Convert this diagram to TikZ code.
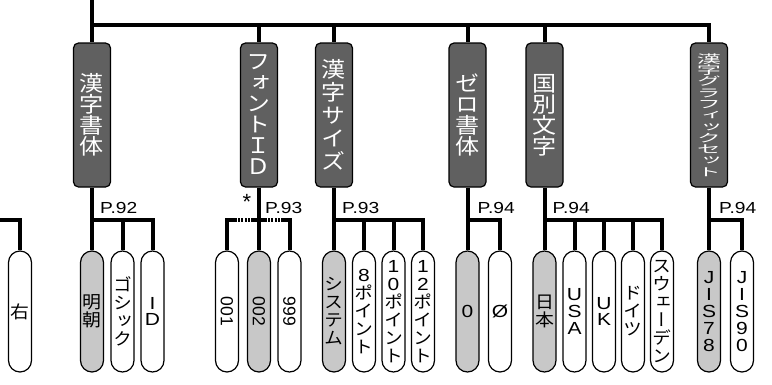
\documentclass[tikz,border=0pt]{standalone}
\usepackage{fontspec}
\setmainfont{Liberation Sans}[FakeStretch=1.2]
\newfontfamily\plainsans{Liberation Sans}
\newfontfamily\jphead[RawFeature=+vert, FakeStretch=1.12]{Noto Sans CJK JP}
\newfontfamily\jpsmall[RawFeature=+vert, FakeStretch=2.1]{Noto Sans CJK JP}
\newfontfamily\jpopt[RawFeature=+vert, FakeStretch=1.08]{Noto Sans CJK JP}
\usepackage{graphicx}
\usetikzlibrary{calc, math}
\definecolor{headgray}{RGB}{96, 96, 96}
\definecolor{selgray}{RGB}{200, 200, 200}
\tikzset{
  bus/.style={line width=4},
  head/.style={draw, line width=1.2, fill=headgray, text=white, rounded corners=5,
    minimum width=37, minimum height=144, inner sep=0, align=center,
    font=\jphead\fontsize{21.5}{21}\selectfont},
  choice/.style={draw, line width=1.2, fill=white, rounded corners=11.5,
    minimum width=23, minimum height=121, inner sep=0, align=center,
    font=\jpopt\fontsize{17.5}{18}\selectfont},
  chosen/.style={choice, fill=selgray},
  latin/.style={font=\rmfamily\fontsize{17.5}{16.8}\selectfont},
  turned/.style={font=\plainsans\fontsize{17.5}{17.5}\selectfont},
  pageref/.style={anchor=base west, inner sep=0, font=\rmfamily\fontsize{16}{16}\selectfont}
}

\begin{document}
\begin{tikzpicture}[x=1pt, y=-1pt]
\tikzmath{
\hy=115; \cy=311.5; \jy=220; \by=25;
}
\useasboundingbox (0,0) rectangle (772,384);

\node[head] (kanji) at (92,\hy) {漢\\字\\書\\体};
\node[head] (fontid) at (259,\hy) {フ\\ォ\\ン\\ト\\Ｉ\\Ｄ};
\node[head, font=\jphead\fontsize{21.5}{23}\selectfont] (ksize) at (334,\hy) {漢\\字\\サ\\イ\\ズ};
\node[head] (zero) at (467.5,\hy) {ゼ\\ロ\\書\\体};
\node[head] (country) at (544.5,\hy) {国\\別\\文\\字};
\node[head, font=\jpsmall\fontsize{11.5}{11.3}\selectfont] (kgraph) at (709,\hy)
  {漢\\字\\グ\\ラ\\フ\\ィ\\ッ\\ク\\セ\\ッ\\ト};

\coordinate (feed) at (92,-5);
\coordinate (jb) at (92,\by);
\draw[bus] (feed) -- (kanji.north);
\draw[bus] (jb) -| (fontid.north);
\draw[bus] (jb) -| (ksize.north);
\draw[bus] (jb) -| (zero.north);
\draw[bus] (jb) -| (country.north);
\draw[bus] (jb) -| (kgraph.north);

\node[choice] (migi) at (20,\cy) {右};

\node[chosen] (mincho) at (92,\cy) {明\\朝};
\node[choice] (gothic) at (122.5,\cy) {ゴ\\シ\\ッ\\ク};
\node[choice, latin] (kid) at (152.5,\cy) {I\\D};

\node[choice, turned] (f001) at (227,\cy) {\rotatebox{-90}{001}};
\node[chosen, turned] (f002) at (259,\cy) {\rotatebox{-90}{002}};
\node[choice, turned] (f999) at (289.5,\cy) {\rotatebox{-90}{999}};

\node[chosen] (sys) at (334,\cy) {シ\\ス\\テ\\ム};
\node[choice] (p8) at (364,\cy) {{\rmfamily 8}\\ポ\\イ\\ン\\ト};
\node[choice] (p10) at (393.5,\cy) {{\rmfamily 1}\\{\rmfamily 0}\\ポ\\イ\\ン\\ト};
\node[choice] (p12) at (423,\cy) {{\rmfamily 1}\\{\rmfamily 2}\\ポ\\イ\\ン\\ト};

\node[chosen, latin] (z0) at (467.5,\cy) {0};
\node[choice, latin] (zslash) at (500,\cy) {Ø};

\node[chosen] (jp) at (544.5,\cy) {日\\本};
\node[choice, latin] (usa) at (574.5,\cy) {U\\S\\A};
\node[choice, latin] (uk) at (604,\cy) {U\\K};
\node[choice] (de) at (633,\cy) {ド\\イ\\ツ};
\node[choice] (se) at (662,\cy) {ス\\ウ\\ェ\\ー\\デ\\ン};

\node[chosen, latin] (jis78) at (709,\cy) {J\\I\\S\\7\\8};
\node[choice, latin] (jis90) at (742,\cy) {J\\I\\S\\9\\0};

\coordinate (feedl) at (-5,\jy);
\draw[bus] (feedl) -| (migi.north);

\coordinate (jk) at (kanji.south |- 0,\jy);
\draw[bus] (kanji.south) -- (mincho.north);
\draw[bus] (jk) -| (gothic.north);
\draw[bus] (jk) -| (kid.north);
\node[pageref] (pk) at ($(jk)+(8,-7)$) {P.92};

\coordinate (jf) at (fontid.south |- 0,\jy);
\draw[bus] (fontid.south) -- (f002.north);
\draw[bus] (jf) -| (f001.north);
\draw[bus] (jf) -| (f999.north);
\draw[white, line width=5, dash pattern=on 1.2 off 2] ($(jf)+(-22,0)$) -- ($(jf)+(-9,0)$);
\draw[white, line width=5, dash pattern=on 1.2 off 2] ($(jf)+(8,0)$) -- ($(jf)+(21,0)$);
\node[anchor=base, inner sep=0, font=\plainsans\fontsize{22}{22}\selectfont] (star) at ($(jf)+(-12,-11)$) {*};
\node[pageref] (pf) at ($(jf)+(6,-7)$) {P.93};

\coordinate (js) at (ksize.south |- 0,\jy);
\draw[bus] (ksize.south) -- (sys.north);
\draw[bus] (js) -| (p8.north);
\draw[bus] (js) -| (p10.north);
\draw[bus] (js) -| (p12.north);
\node[pageref] (ps) at ($(js)+(8,-7)$) {P.93};

\coordinate (jz) at (zero.south |- 0,\jy);
\draw[bus] (zero.south) -- (z0.north);
\draw[bus] (jz) -| (zslash.north);
\node[pageref] (pz) at ($(jz)+(10,-7)$) {P.94};

\coordinate (jc) at (country.south |- 0,\jy);
\draw[bus] (country.south) -- (jp.north);
\draw[bus] (jc) -| (usa.north);
\draw[bus] (jc) -| (uk.north);
\draw[bus] (jc) -| (de.north);
\draw[bus] (jc) -| (se.north);
\node[pageref] (pc) at ($(jc)+(8,-7)$) {P.94};

\coordinate (jg) at (kgraph.south |- 0,\jy);
\draw[bus] (kgraph.south) -- (jis78.north);
\draw[bus] (jg) -| (jis90.north);
\node[pageref] (pg) at ($(jg)+(10,-7)$) {P.94};
\end{tikzpicture}
\end{document}
